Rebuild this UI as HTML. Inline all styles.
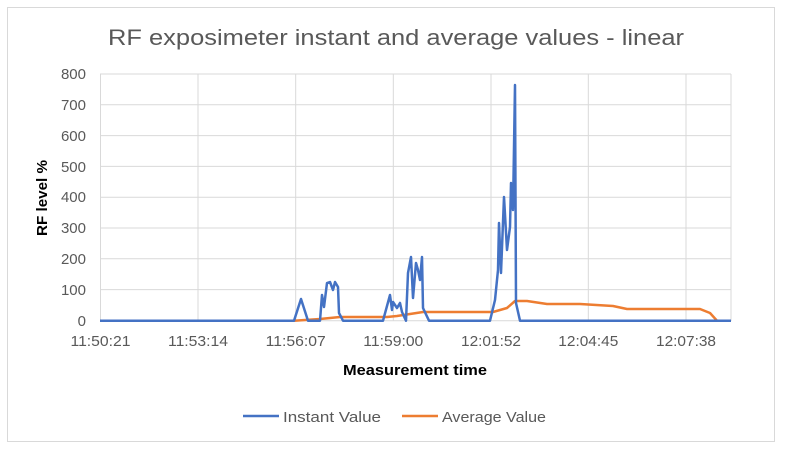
<!DOCTYPE html>
<html><head><meta charset="utf-8"><style>
body{margin:0;background:#fff;}
svg text{font-family:"Liberation Sans",sans-serif;}
</style></head><body>
<svg width="792" height="451" viewBox="0 0 792 451" xmlns="http://www.w3.org/2000/svg">
<rect x="0" y="0" width="792" height="451" fill="#fff"/>
<rect x="7.5" y="7.5" width="767" height="434" fill="#fff" stroke="#d9d9d9" stroke-width="1"/>
<text x="396" y="45" text-anchor="middle" font-size="22" fill="#595959" textLength="576" lengthAdjust="spacingAndGlyphs">RF exposimeter instant and average values - linear</text>
<g stroke="#d9d9d9" stroke-width="1">
<line x1="100" y1="74" x2="731" y2="74"/><line x1="100" y1="104.8" x2="731" y2="104.8"/>
<line x1="100" y1="135.6" x2="731" y2="135.6"/><line x1="100" y1="166.4" x2="731" y2="166.4"/>
<line x1="100" y1="197.2" x2="731" y2="197.2"/><line x1="100" y1="228" x2="731" y2="228"/>
<line x1="100" y1="258.8" x2="731" y2="258.8"/><line x1="100" y1="289.6" x2="731" y2="289.6"/>
<line x1="100.5" y1="74" x2="100.5" y2="321"/><line x1="198" y1="74" x2="198" y2="321"/>
<line x1="295.7" y1="74" x2="295.7" y2="321"/><line x1="393.3" y1="74" x2="393.3" y2="321"/>
<line x1="491" y1="74" x2="491" y2="321"/><line x1="588.3" y1="74" x2="588.3" y2="321"/>
<line x1="686" y1="74" x2="686" y2="321"/><line x1="731" y1="74" x2="731" y2="321"/>
</g>
<line x1="100" y1="320.7" x2="731" y2="320.7" stroke="#d9d9d9"/>
<g font-size="15" fill="#595959" text-anchor="end">
<text x="86" y="79">800</text><text x="86" y="110">700</text><text x="86" y="141">600</text>
<text x="86" y="172">500</text><text x="86" y="202">400</text><text x="86" y="233">300</text>
<text x="86" y="264">200</text><text x="86" y="295">100</text><text x="86" y="326">0</text>
</g>
<g font-size="15" fill="#595959" text-anchor="middle">
<text x="100.5" y="346" textLength="60" lengthAdjust="spacingAndGlyphs">11:50:21</text>
<text x="198" y="346" textLength="60" lengthAdjust="spacingAndGlyphs">11:53:14</text>
<text x="295.7" y="346" textLength="60" lengthAdjust="spacingAndGlyphs">11:56:07</text>
<text x="393.3" y="346" textLength="60" lengthAdjust="spacingAndGlyphs">11:59:00</text>
<text x="491" y="346" textLength="60" lengthAdjust="spacingAndGlyphs">12:01:52</text>
<text x="588.3" y="346" textLength="60" lengthAdjust="spacingAndGlyphs">12:04:45</text>
<text x="686" y="346" textLength="60" lengthAdjust="spacingAndGlyphs">12:07:38</text>
</g>
<text x="415" y="375" text-anchor="middle" font-size="15" font-weight="bold" fill="#000" textLength="144" lengthAdjust="spacingAndGlyphs">Measurement time</text>
<text transform="translate(47,198) rotate(-90)" text-anchor="middle" font-size="15" font-weight="bold" fill="#000" textLength="76" lengthAdjust="spacingAndGlyphs">RF level %</text>
<polyline fill="none" stroke="#ed7d31" stroke-width="2.5" stroke-linejoin="round" points="100,320.7 294,320.7 320,319 340,317 387,317 397,316 423,312 493,312 507,308 515,301 527,301 547,304 580,304 613,306 627,309 700,309 710,313 717,320.7 731,320.7"/>
<polyline fill="none" stroke="#4472c4" stroke-width="2.5" stroke-linejoin="round" points="100,320.7 294,320.7 301,299 308,320.7 320,320.7 322,295 324,307 327,283 330,282 333,290 335,282 338,287 339,313 343,320.7 383,320.7 390,295 392,310 393,302 397,308 400,303 402,312 406,320.7 408,273 411,257 413,298 416,263 418,270 420,280 422,257 423,308 429,320.7 490,320.7 495,300 498,270 499,223 501,273 504,197 507,250 510,227 511,183 513,210 515,85 516,303 520,320.7 731,320.7"/>
<line x1="243" y1="416" x2="279" y2="416" stroke="#4472c4" stroke-width="2.5"/>
<text x="283" y="422" font-size="15" fill="#595959" textLength="98" lengthAdjust="spacingAndGlyphs">Instant Value</text>
<line x1="402" y1="416" x2="438" y2="416" stroke="#ed7d31" stroke-width="2.5"/>
<text x="442" y="422" font-size="15" fill="#595959" textLength="104" lengthAdjust="spacingAndGlyphs">Average Value</text>
</svg>
</body></html>
